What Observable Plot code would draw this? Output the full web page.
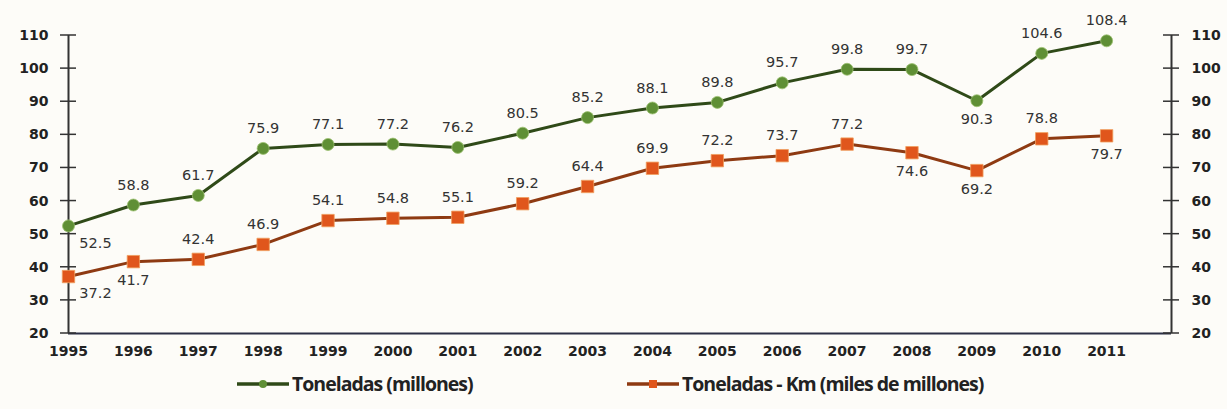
<!DOCTYPE html>
<html><head><meta charset="utf-8">
<script src="https://cdn.jsdelivr.net/npm/d3@7"></script>
<script src="https://cdn.jsdelivr.net/npm/@observablehq/plot@0.6"></script>
<style>
body{margin:0;background:#fdfcf8;font-family:"DejaVu Sans",sans-serif;}
#legend{position:relative;height:30px;font-family:"Open Sans",sans-serif;font-size:19.5px;font-weight:700;color:#222;letter-spacing:-1px}
.item{position:absolute;top:0;display:flex;align-items:center;gap:1px}
</style></head>
<body>
<div id="chart"></div>
<div id="legend"></div>
<script>
const years = [1995,1996,1997,1998,1999,2000,2001,2002,2003,2004,2005,2006,2007,2008,2009,2010,2011];
const toneladas = [52.5,58.8,61.7,75.9,77.1,77.2,76.2,80.5,85.2,88.1,89.8,95.7,99.8,99.7,90.3,104.6,108.4];
const toneladasKm = [37.2,41.7,42.4,46.9,54.1,54.8,55.1,59.2,64.4,69.9,72.2,73.7,77.2,74.6,69.2,78.8,79.7];
const greenBelow = [1995,2009];
const orangeBelow = [1995,1996,2008,2009,2011];
const yTicks = [20,30,40,50,60,70,80,90,100,110];
const seriesNames = ["Toneladas (millones)","Toneladas - Km (miles de millones)"];

const green = years.map((y,i)=>({year:y,v:toneladas[i],below:greenBelow.includes(y)}));
const orange = years.map((y,i)=>({year:y,v:toneladasKm[i],below:orangeBelow.includes(y)}));

const lblFont = {fontSize:14.5, fill:"#333", fontFamily:"DejaVu Sans", fontWeight:"normal"};
function labels(data){
  return [
    Plot.text(data.filter(d=>!d.below && d.year!==1995),{x:"year",y:"v",text:d=>d.v.toFixed(1),dy:-20,...lblFont}),
    Plot.text(data.filter(d=>d.below && d.year!==1995),{x:"year",y:"v",text:d=>d.v.toFixed(1),dy:19,...lblFont}),
    Plot.text(data.filter(d=>d.year===1995),{x:"year",y:"v",text:d=>d.v.toFixed(1),dy:17,dx:27,...lblFont})
  ];
}

const chart = Plot.plot({
  width:1227, height:370,
  marginTop:35, marginBottom:37, marginLeft:68, marginRight:56,
  style:{background:"transparent",fontFamily:"DejaVu Sans",fontSize:"14px",fontWeight:"bold",color:"#222"},
  x:{type:"linear",domain:[1995,2012],label:null},
  y:{type:"linear",domain:[20,110],label:null},
  marks:[
    Plot.ruleY([20],{stroke:"#2b2f45",strokeWidth:2}),
    Plot.ruleX([1995,2012],{stroke:"#333",strokeWidth:2}),
    Plot.axisY({anchor:"left",ticks:yTicks,tickSize:8,tickPadding:12,fontWeight:"bold",fontSize:14}),
    Plot.axisY({anchor:"right",ticks:yTicks,tickSize:8,tickPadding:12,fontWeight:"bold",fontSize:14}),
    Plot.axisX({ticks:years,tickFormat:"d",tickSize:0,tickPadding:13,fontWeight:"bold",fontSize:14}),
    Plot.line(orange,{x:"year",y:"v",stroke:"#8e3a12",strokeWidth:3}),
    Plot.dot(orange,{x:"year",y:"v",symbol:"square",r:7,fill:"#e0561c",stroke:"#f0a060",strokeWidth:0.8}),
    Plot.line(green,{x:"year",y:"v",stroke:"#2f4a18",strokeWidth:3}),
    Plot.dot(green,{x:"year",y:"v",r:6,fill:"#5f8f35",stroke:"#9cc070",strokeWidth:0.8}),
    ...labels(green),
    ...labels(orange)
  ]
});
document.getElementById("chart").appendChild(chart);

// tick marks crossing axes both sides
const svg = d3.select(chart);
const yS = chart.scale("y"), xS = chart.scale("x");
svg.selectAll("[aria-label='y-axis tick']").remove();
[xS.apply(1995), xS.apply(2012)].forEach(x0=>{
  yTicks.forEach(t=>{
    svg.append("line").attr("x1",x0-8).attr("x2",x0+8).attr("y1",yS.apply(t)).attr("y2",yS.apply(t)).attr("stroke","#333").attr("stroke-width",1.5);
  });
});

const leg = d3.select("#legend");
const colors = [["#2f4a18","#5f8f35","circle"],["#8e3a12","#e0561c","square"]];
const lefts = [235, 625];
seriesNames.forEach((n,i)=>{
  const it = leg.append("div").attr("class","item").style("left",lefts[i]+"px");
  const s = it.append("svg").attr("width",56).attr("height",14);
  s.append("line").attr("x1",2).attr("x2",54).attr("y1",7).attr("y2",7).attr("stroke",colors[i][0]).attr("stroke-width",3.5);
  if(colors[i][2]==="circle") s.append("circle").attr("cx",28).attr("cy",7).attr("r",4).attr("fill",colors[i][1]);
  else s.append("rect").attr("x",24).attr("y",3).attr("width",8).attr("height",8).attr("fill",colors[i][1]);
  it.append("span").text(n);
});
</script>
</body></html>
